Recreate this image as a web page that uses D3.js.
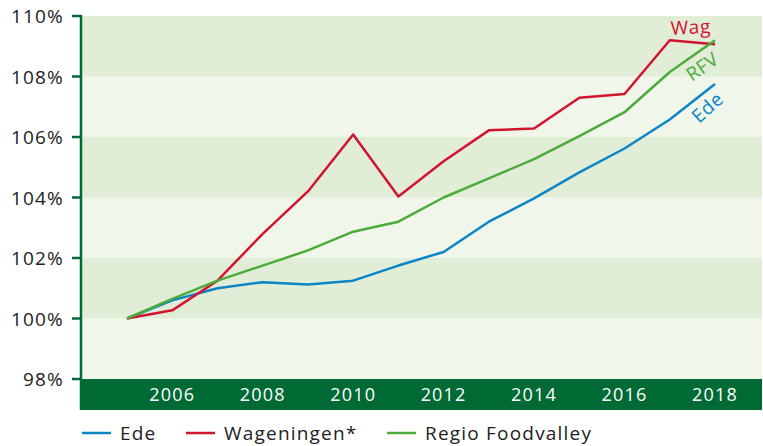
<html>
<script src='https://d3js.org/d3.v7.min.js'></script>
<style>
body {margin: 0; background: white;}
text {font-family: 'Open Sans', sans-serif;}
</style>
<body>
<svg width=763 height=446></svg>
<script>
var years = [2005,2006,2007,2008,2009,2010,2011,2012,2013,2014,2015,2016,2017,2018];
var ede = [100,100.6,101.0,101.2,101.12,101.25,101.75,102.2,103.2,103.97,104.83,105.62,106.58,107.75];
var wag = [100,100.27,101.25,102.8,104.2,106.08,104.03,105.2,106.22,106.28,107.3,107.42,109.2,109.07];
var rfv = [100,100.65,101.25,101.75,102.25,102.87,103.2,104.0,104.63,105.27,106.03,106.82,108.15,109.2];
var yTicks = [98,100,102,104,106,108,110];
var xTicks = [2006,2008,2010,2012,2014,2016,2018];
var seriesNames = ["Ede", "Wageningen*", "Regio Foodvalley"];
var endLabels = ["Ede", "Wag", "RFV"];

var blue = "#0a85c7", red = "#d3142f", green = "#4cac3a", dark = "#006a35";

var svg = d3.select("svg");
var pLeft = 81, pRight = 762, pTop = 16, pBottom = 379;

var x = d3.scaleLinear().domain([2005, 2018]).range([127, 715]);
var y = d3.scaleLinear().domain([98, 110]).range([pBottom, pTop]);

// background bands
for (var i = 0; i < yTicks.length - 1; i++) {
  svg.append("rect")
    .attr("x", pLeft).attr("width", pRight - pLeft)
    .attr("y", y(yTicks[i+1])).attr("height", y(yTicks[i]) - y(yTicks[i+1]))
    .attr("fill", i % 2 == 0 ? "#f1f6eb" : "#e2edd8");
}

// year band
svg.append("rect").attr("x", pLeft - 1).attr("y", pBottom).attr("width", pRight - pLeft + 1).attr("height", 31).attr("fill", dark);
svg.selectAll(".xl").data(xTicks).enter().append("text")
  .attr("x", function(d) { return x(d); }).attr("y", pBottom + 22)
  .attr("text-anchor", "middle").attr("fill", "white").style("font-size", "18px").style("letter-spacing", "1.2px")
  .text(function(d) { return d; });

// y axis
svg.append("line").attr("x1", pLeft).attr("x2", pLeft).attr("y1", pTop - 1).attr("y2", pBottom + 31)
  .attr("stroke", dark).attr("stroke-width", 2.5);
svg.selectAll(".yt").data(yTicks).enter().append("line")
  .attr("x1", pLeft - 9).attr("x2", pLeft).attr("y1", function(d) { return y(d); }).attr("y2", function(d) { return y(d); })
  .attr("stroke", dark).attr("stroke-width", 2.5);
svg.selectAll(".yl").data(yTicks).enter().append("text")
  .attr("x", 64).attr("y", function(d) { return y(d) + 7; })
  .attr("text-anchor", "end").attr("fill", "#222").style("font-size", "19px").style("letter-spacing", "1.2px")
  .text(function(d) { return d + "%"; });

var line = d3.line().x(function(d, i) { return x(years[i]); }).y(function(d) { return y(d); });
var series = [[ede, blue], [wag, red], [rfv, green]];
series.forEach(function(s) {
  svg.append("path").datum(s[0]).attr("d", line)
    .attr("fill", "none").attr("stroke", s[1]).attr("stroke-width", 2.5).attr("stroke-linejoin", "round");
});

// end labels
svg.append("text").attr("transform", "translate(671,35) rotate(-3)").attr("fill", red)
  .style("font-size", "19px").style("letter-spacing", "0.6px").text(endLabels[1]);
svg.append("text").attr("transform", "translate(692,82) rotate(-35)").attr("fill", green)
  .style("font-size", "19px").style("letter-spacing", "0.6px").text(endLabels[2]);
svg.append("text").attr("transform", "translate(699,124) rotate(-42)").attr("fill", blue)
  .style("font-size", "19px").style("letter-spacing", "0.6px").text(endLabels[0]);

// legend
var legX = [82, 186, 387];
var legC = [blue, red, green];
seriesNames.forEach(function(n, i) {
  svg.append("line").attr("x1", legX[i]).attr("x2", legX[i] + 29).attr("y1", 433).attr("y2", 433)
    .attr("stroke", legC[i]).attr("stroke-width", 2.5);
  svg.append("text").attr("x", legX[i] + 38).attr("y", 440).attr("fill", "#222")
    .style("font-size", "19px").style("letter-spacing", "1.2px").text(n);
});
</script>
</body>
</html>
